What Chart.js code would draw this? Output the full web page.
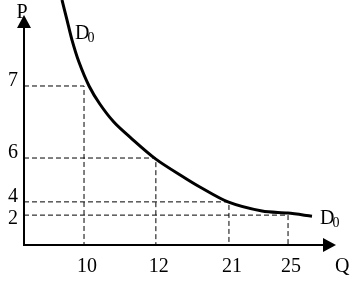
<!DOCTYPE html>
<html>
<head>
<meta charset="utf-8">
<script src="https://cdn.jsdelivr.net/npm/chart.js@4/dist/chart.umd.min.js"></script>
<style>
  html, body { margin: 0; padding: 0; background: #fff; }
  canvas { display: block; }
</style>
</head>
<body>
<canvas id="demand" width="360" height="287"></canvas>
<script>
// ---- Data ----
const qTicks = [10, 12, 21, 25];
const pTicks = [7, 6, 4, 2];
// demand curve D0
const demandQ = [6.33, 7.17, 8.0, 9.17, 10.14, 10.44, 10.83, 11.28, 12.0, 15.58, 17.42, 20.88, 23.24, 24.98, 27.55];
const demandP = [8.2, 7.92, 7.64, 7.33, 7.0, 6.75, 6.5, 6.29, 5.95, 5.09, 4.68, 4.0, 2.62, 2.31, 1.93];

const FONT = "'Liberation Serif', 'DejaVu Serif', serif";

// the axes of this sketch are not to scale: map values piecewise along the axis
class PiecewiseScale extends Chart.LinearScale {
    static id = 'piecewise';
    getPixelForValue(value) {
        if (value === null || value === undefined) return NaN;
        const k = this.options.knots;
        let f;
        if (value <= k[0][0]) {
            f = k[0][1];
        } else if (value >= k[k.length - 1][0]) {
            const a = k[k.length - 2], b = k[k.length - 1];
            f = b[1] + (value - b[0]) * (b[1] - a[1]) / (b[0] - a[0]);
        } else {
            for (let i = 1; i < k.length; i++) {
                if (value <= k[i][0]) {
                    const a = k[i - 1], b = k[i];
                    f = a[1] + (value - a[0]) * (b[1] - a[1]) / (b[0] - a[0]);
                    break;
                }
            }
        }
        return this.getPixelForDecimal(f);
    }
    getValueForPixel(pixel) {
        const f = this.getDecimalForPixel(pixel);
        const k = this.options.knots;
        for (let i = 1; i < k.length; i++) {
            if (f <= k[i][1]) {
                const a = k[i - 1], b = k[i];
                return a[0] + (f - a[1]) * (b[0] - a[0]) / (b[1] - a[1]);
            }
        }
        return k[k.length - 1][0];
    }
}
Chart.register(PiecewiseScale);

const curve = demandQ.map((q, i) => ({ x: q, y: demandP[i] }));
const guides = qTicks.map((q, i) => ({
    data: [{ x: 0, y: pTicks[i] }, { x: q, y: pTicks[i] }, { x: q, y: 0 }],
    borderColor: '#000',
    borderWidth: 1,
    borderDash: [5, 3],
    pointRadius: 0,
    tension: 0,
    clip: false
}));

// ---- Axes, arrows and texts ----
const sketchPlugin = {
    id: 'sketch',
    afterDatasetsDraw(chart) {
        const { ctx, chartArea, scales: { x, y } } = chart;
        const ox = x.getPixelForValue(0);
        const oy = y.getPixelForValue(0);
        const xTip = chartArea.right + 1;
        const yTip = chartArea.top + 15;
        ctx.save();
        ctx.strokeStyle = '#000';
        ctx.fillStyle = '#000';
        ctx.lineWidth = 2;
        ctx.beginPath();
        ctx.moveTo(ox, yTip + 13);
        ctx.lineTo(ox, oy);
        ctx.lineTo(xTip - 13, oy);
        ctx.stroke();
        // arrow heads
        ctx.beginPath();
        ctx.moveTo(xTip, oy);
        ctx.lineTo(xTip - 13, oy - 7);
        ctx.lineTo(xTip - 13, oy + 7);
        ctx.closePath();
        ctx.fill();
        ctx.beginPath();
        ctx.moveTo(ox, yTip);
        ctx.lineTo(ox - 7, yTip + 13);
        ctx.lineTo(ox + 7, yTip + 13);
        ctx.closePath();
        ctx.fill();

        ctx.font = '20px ' + FONT;
        ctx.textBaseline = 'alphabetic';
        // Q ticks
        ctx.textAlign = 'center';
        qTicks.forEach(q => ctx.fillText(String(q), x.getPixelForValue(q) + 3, oy + 27));
        ctx.textAlign = 'left';
        ctx.fillText('Q', xTip - 1, oy + 27);
        // P ticks, pushed apart where they would overlap
        ctx.textAlign = 'right';
        let prev = -Infinity;
        pTicks.slice().sort((a, b) => b - a).forEach(p => {
            const base = Math.max(y.getPixelForValue(p), prev + 22);
            ctx.fillText(String(p), ox - 6, base);
            prev = base;
        });
        ctx.textAlign = 'center';
        ctx.fillText('P', ox - 2, yTip + 3);

        // D0 labels at both ends of the curve
        const drawD0 = (px, py) => {
            ctx.textAlign = 'left';
            ctx.font = '20px ' + FONT;
            ctx.fillText('D', px, py);
            const w = ctx.measureText('D').width;
            ctx.font = '14px ' + FONT;
            ctx.fillText('0', px + w - 2, py + 3);
        };
        const first = curve[2], last = curve[curve.length - 1];
        drawD0(x.getPixelForValue(first.x) + 3, y.getPixelForValue(first.y) - 1);
        drawD0(x.getPixelForValue(last.x) + 8, y.getPixelForValue(last.y) + 8);
        ctx.restore();
    }
};

new Chart(document.getElementById('demand'), {
    type: 'line',
    data: {
        datasets: [{
            data: curve,
            borderColor: '#000',
            borderWidth: 3,
            pointRadius: 0,
            tension: 0.3,
            clip: false
        }, ...guides]
    },
    options: {
        responsive: false,
        animation: false,
        layout: { padding: { left: 24, right: 25, top: 0, bottom: 42 } },
        plugins: { legend: { display: false }, tooltip: { enabled: false } },
        scales: {
            x: {
                type: 'piecewise', display: false, min: 0, max: 30,
                knots: [[0, 0], [10, 0.193], [12, 0.424], [21, 0.659], [25, 0.849], [30, 1]]
            },
            y: {
                type: 'piecewise', display: false, min: 0, max: 8.2,
                knots: [[0, 0], [2, 0.122], [4, 0.176], [6, 0.355], [7, 0.649], [8.2, 1]]
            }
        }
    },
    plugins: [sketchPlugin]
});
</script>
</body>
</html>
